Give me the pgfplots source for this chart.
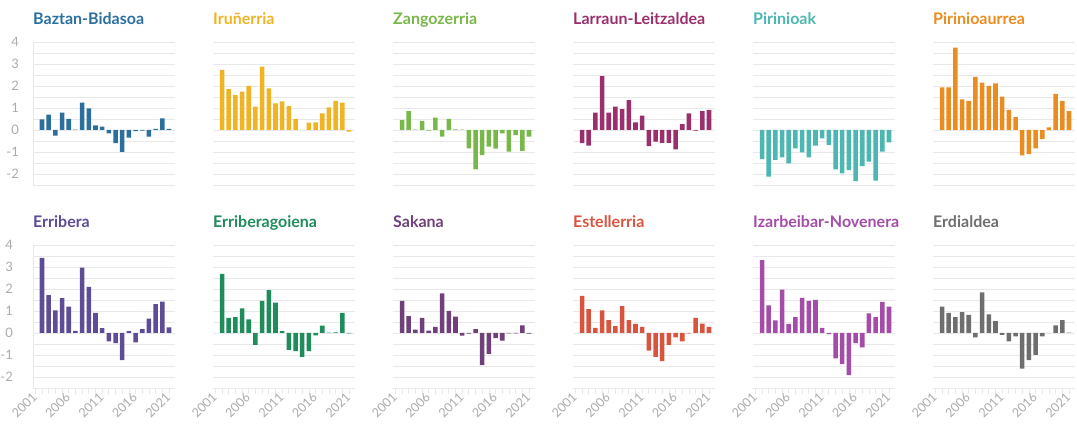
\documentclass[border=0pt]{standalone}
\usepackage{fontspec}
\setmainfont{Lato}
\usepackage{pgfplots}
\pgfplotsset{compat=1.18}
\definecolor{tickgray}{HTML}{ABABAB}
\definecolor{gridgray}{HTML}{E8E8E8}
\definecolor{cBaztan}{HTML}{2B6F9F}
\definecolor{cIrun}{HTML}{F0B323}
\definecolor{cZango}{HTML}{78B84A}
\definecolor{cLarraun}{HTML}{9A2F6C}
\definecolor{cPiri}{HTML}{4CB7B1}
\definecolor{cPiriA}{HTML}{EA8C1F}
\definecolor{cErri}{HTML}{5F4C97}
\definecolor{cErriG}{HTML}{1F8C5B}
\definecolor{cSakana}{HTML}{6F4079}
\definecolor{cEstel}{HTML}{D9543F}
\definecolor{cIzar}{HTML}{A34CA8}
\definecolor{cErdi}{HTML}{6E6E6E}
\pgfplotsset{
  panel/.style={
    scale only axis, width=142pt, height=143pt,
    xmin=2000.65, xmax=2021.9, ymin=-2.5, ymax=4,
    axis x line*=bottom, axis y line*=left,
    x axis line style={draw=none},
    y axis line style={draw=none},
    ytick={-2,-1,0,1,2,3,4},
    minor ytick={-2.5,-1.5,-0.5,0.5,1.5,2.5,3.5},
    yticklabel=\empty,
    ymajorgrids, yminorgrids,
    major grid style={draw=gridgray, line width=0.7pt},
    minor grid style={draw=gridgray, line width=0.7pt},
    ytick style={draw=none}, minor y tick style={draw=none},
    xtick=\empty,
    ybar, bar width=0.68,
    title style={at={(0,1)}, anchor=base west, yshift=11.5pt, inner sep=0pt,
      font=\fontsize{16}{18}\selectfont\bfseries},
  },
  ylab/.style={
    y axis line style={draw=gridgray, line width=0.7pt, -},
    yticklabel={\pgfmathprintnumber{\tick}},
    yticklabel style={font=\fontsize{13}{15}\selectfont, text=tickgray, inner sep=0pt, xshift=-14pt,
      /pgf/number format/assume math mode=true},
  },
  xlab/.style={
    xtick={2001,2006,2011,2016,2021},
    minor xtick={2001,...,2021},
    xticklabel style={/pgf/number format/1000 sep={}, /pgf/number format/assume math mode=true},
    xtick style={draw=gridgray, line width=0.7pt},
    minor x tick style={draw=gridgray, line width=0.7pt},
    major tick length=6pt, minor tick length=6pt, tick align=outside,
    xticklabel style={rotate=45, anchor=east, font=\fontsize{12.5}{14}\selectfont, text=tickgray, inner sep=1pt},
  },
}
\newcommand{\panel}[6]{%
  \begin{axis}[panel, at={(#1pt,#2pt)}, anchor=south west, title={#3}, title style={text=#4}, #5]
    \addplot[fill=#4, draw=none] coordinates {#6};
  \end{axis}}
\begin{document}
\begin{tikzpicture}
\path[use as bounding box] (0,0) rectangle (1077pt,427pt);
% top row
\panel{33}{242}{Baztan-Bidasoa}{cBaztan}{ylab}{(2002,0.48)(2003,0.7)(2004,-0.26)(2005,0.79)(2006,0.5)(2007,0.02)(2008,1.24)(2009,0.98)(2010,0.21)(2011,0.15)(2012,-0.15)(2013,-0.6)(2014,-1.0)(2015,-0.35)(2016,-0.05)(2017,-0.03)(2018,-0.3)(2019,0.05)(2020,0.53)(2021,0.05)}
\panel{213}{242}{Iruñerria}{cIrun}{}{(2002,2.73)(2003,1.86)(2004,1.58)(2005,1.74)(2006,2.0)(2007,1.06)(2008,2.88)(2009,1.89)(2010,1.21)(2011,1.3)(2012,1.09)(2013,0.5)(2014,0)(2015,0.33)(2016,0.35)(2017,0.76)(2018,1.03)(2019,1.32)(2020,1.24)(2021,-0.07)}
\panel{393}{242}{Zangozerria}{cZango}{}{(2002,0.45)(2003,0.86)(2004,0.02)(2005,0.42)(2006,-0.03)(2007,0.56)(2008,-0.3)(2009,0.5)(2010,0.03)(2011,0.02)(2012,-0.83)(2013,-1.79)(2014,-1.14)(2015,-0.76)(2016,-0.85)(2017,-0.15)(2018,-0.98)(2019,-0.23)(2020,-0.95)(2021,-0.3)}
\panel{573}{242}{Larraun-Leitzaldea}{cLarraun}{}{(2002,-0.6)(2003,-0.71)(2004,0.79)(2005,2.45)(2006,0.79)(2007,1.06)(2008,0.95)(2009,1.36)(2010,0.35)(2011,0.65)(2012,-0.73)(2013,-0.53)(2014,-0.58)(2015,-0.58)(2016,-0.88)(2017,0.27)(2018,0.76)(2019,-0.03)(2020,0.86)(2021,0.91)}
\panel{753}{242}{Pirinioak}{cPiri}{}{(2002,-1.32)(2003,-2.12)(2004,-1.36)(2005,-1.24)(2006,-1.52)(2007,-0.83)(2008,-1.02)(2009,-1.24)(2010,-0.71)(2011,-0.38)(2012,-0.68)(2013,-1.79)(2014,-1.97)(2015,-1.82)(2016,-2.32)(2017,-1.64)(2018,-1.44)(2019,-2.3)(2020,-0.98)(2021,-0.56)}
\panel{933}{242}{Pirinioaurrea}{cPiriA}{}{(2002,1.94)(2003,1.94)(2004,3.74)(2005,1.39)(2006,1.32)(2007,2.42)(2008,2.15)(2009,2.0)(2010,2.12)(2011,1.52)(2012,0.91)(2013,0.58)(2014,-1.15)(2015,-1.1)(2016,-0.83)(2017,-0.42)(2018,0.12)(2019,1.64)(2020,1.32)(2021,0.86)}
% bottom row
\panel{33}{39}{Erribera}{cErri}{ylab,xlab}{(2002,3.42)(2003,1.72)(2004,1.03)(2005,1.58)(2006,1.2)(2007,0.1)(2008,2.97)(2009,2.1)(2010,0.92)(2011,0.22)(2012,-0.38)(2013,-0.46)(2014,-1.23)(2015,0.08)(2016,-0.43)(2017,0.18)(2018,0.65)(2019,1.31)(2020,1.43)(2021,0.26)}
\panel{213}{39}{Erriberagoiena}{cErriG}{xlab}{(2002,2.69)(2003,0.69)(2004,0.72)(2005,1.12)(2006,0.62)(2007,-0.54)(2008,1.46)(2009,1.95)(2010,1.38)(2011,0.08)(2012,-0.77)(2013,-0.82)(2014,-1.08)(2015,-0.82)(2016,-0.11)(2017,0.34)(2018,0.02)(2019,0.03)(2020,0.92)(2021,-0.02)}
\panel{393}{39}{Sakana}{cSakana}{xlab}{(2002,1.46)(2003,0.77)(2004,0.15)(2005,0.69)(2006,0.11)(2007,0.28)(2008,1.8)(2009,1.0)(2010,0.74)(2011,-0.12)(2012,-0.03)(2013,0.18)(2014,-1.46)(2015,-0.95)(2016,-0.23)(2017,-0.35)(2018,-0.02)(2019,-0.02)(2020,0.35)(2021,-0.03)}
\panel{573}{39}{Estellerria}{cEstel}{xlab}{(2002,1.69)(2003,1.08)(2004,0.23)(2005,1.03)(2006,0.58)(2007,0.31)(2008,1.22)(2009,0.58)(2010,0.42)(2011,0.28)(2012,-0.8)(2013,-1.08)(2014,-1.28)(2015,-0.54)(2016,-0.2)(2017,-0.38)(2018,-0.02)(2019,0.69)(2020,0.43)(2021,0.28)}
\panel{753}{39}{Izarbeibar-Novenera}{cIzar}{xlab}{(2002,3.31)(2003,1.26)(2004,0.57)(2005,1.97)(2006,0.42)(2007,0.72)(2008,1.6)(2009,1.46)(2010,1.51)(2011,0.23)(2012,-0.05)(2013,-1.15)(2014,-1.42)(2015,-1.92)(2016,-0.46)(2017,-0.65)(2018,0.89)(2019,0.72)(2020,1.42)(2021,1.2)}
\panel{933}{39}{Erdialdea}{cErdi}{xlab}{(2002,1.2)(2003,0.92)(2004,0.72)(2005,0.95)(2006,0.82)(2007,-0.2)(2008,1.85)(2009,0.85)(2010,0.54)(2011,-0.08)(2012,-0.38)(2013,-0.15)(2014,-1.62)(2015,-1.23)(2016,-1.0)(2017,-0.15)(2018,0.01)(2019,0.35)(2020,0.58)(2021,0.02)}
\end{tikzpicture}
\end{document}
